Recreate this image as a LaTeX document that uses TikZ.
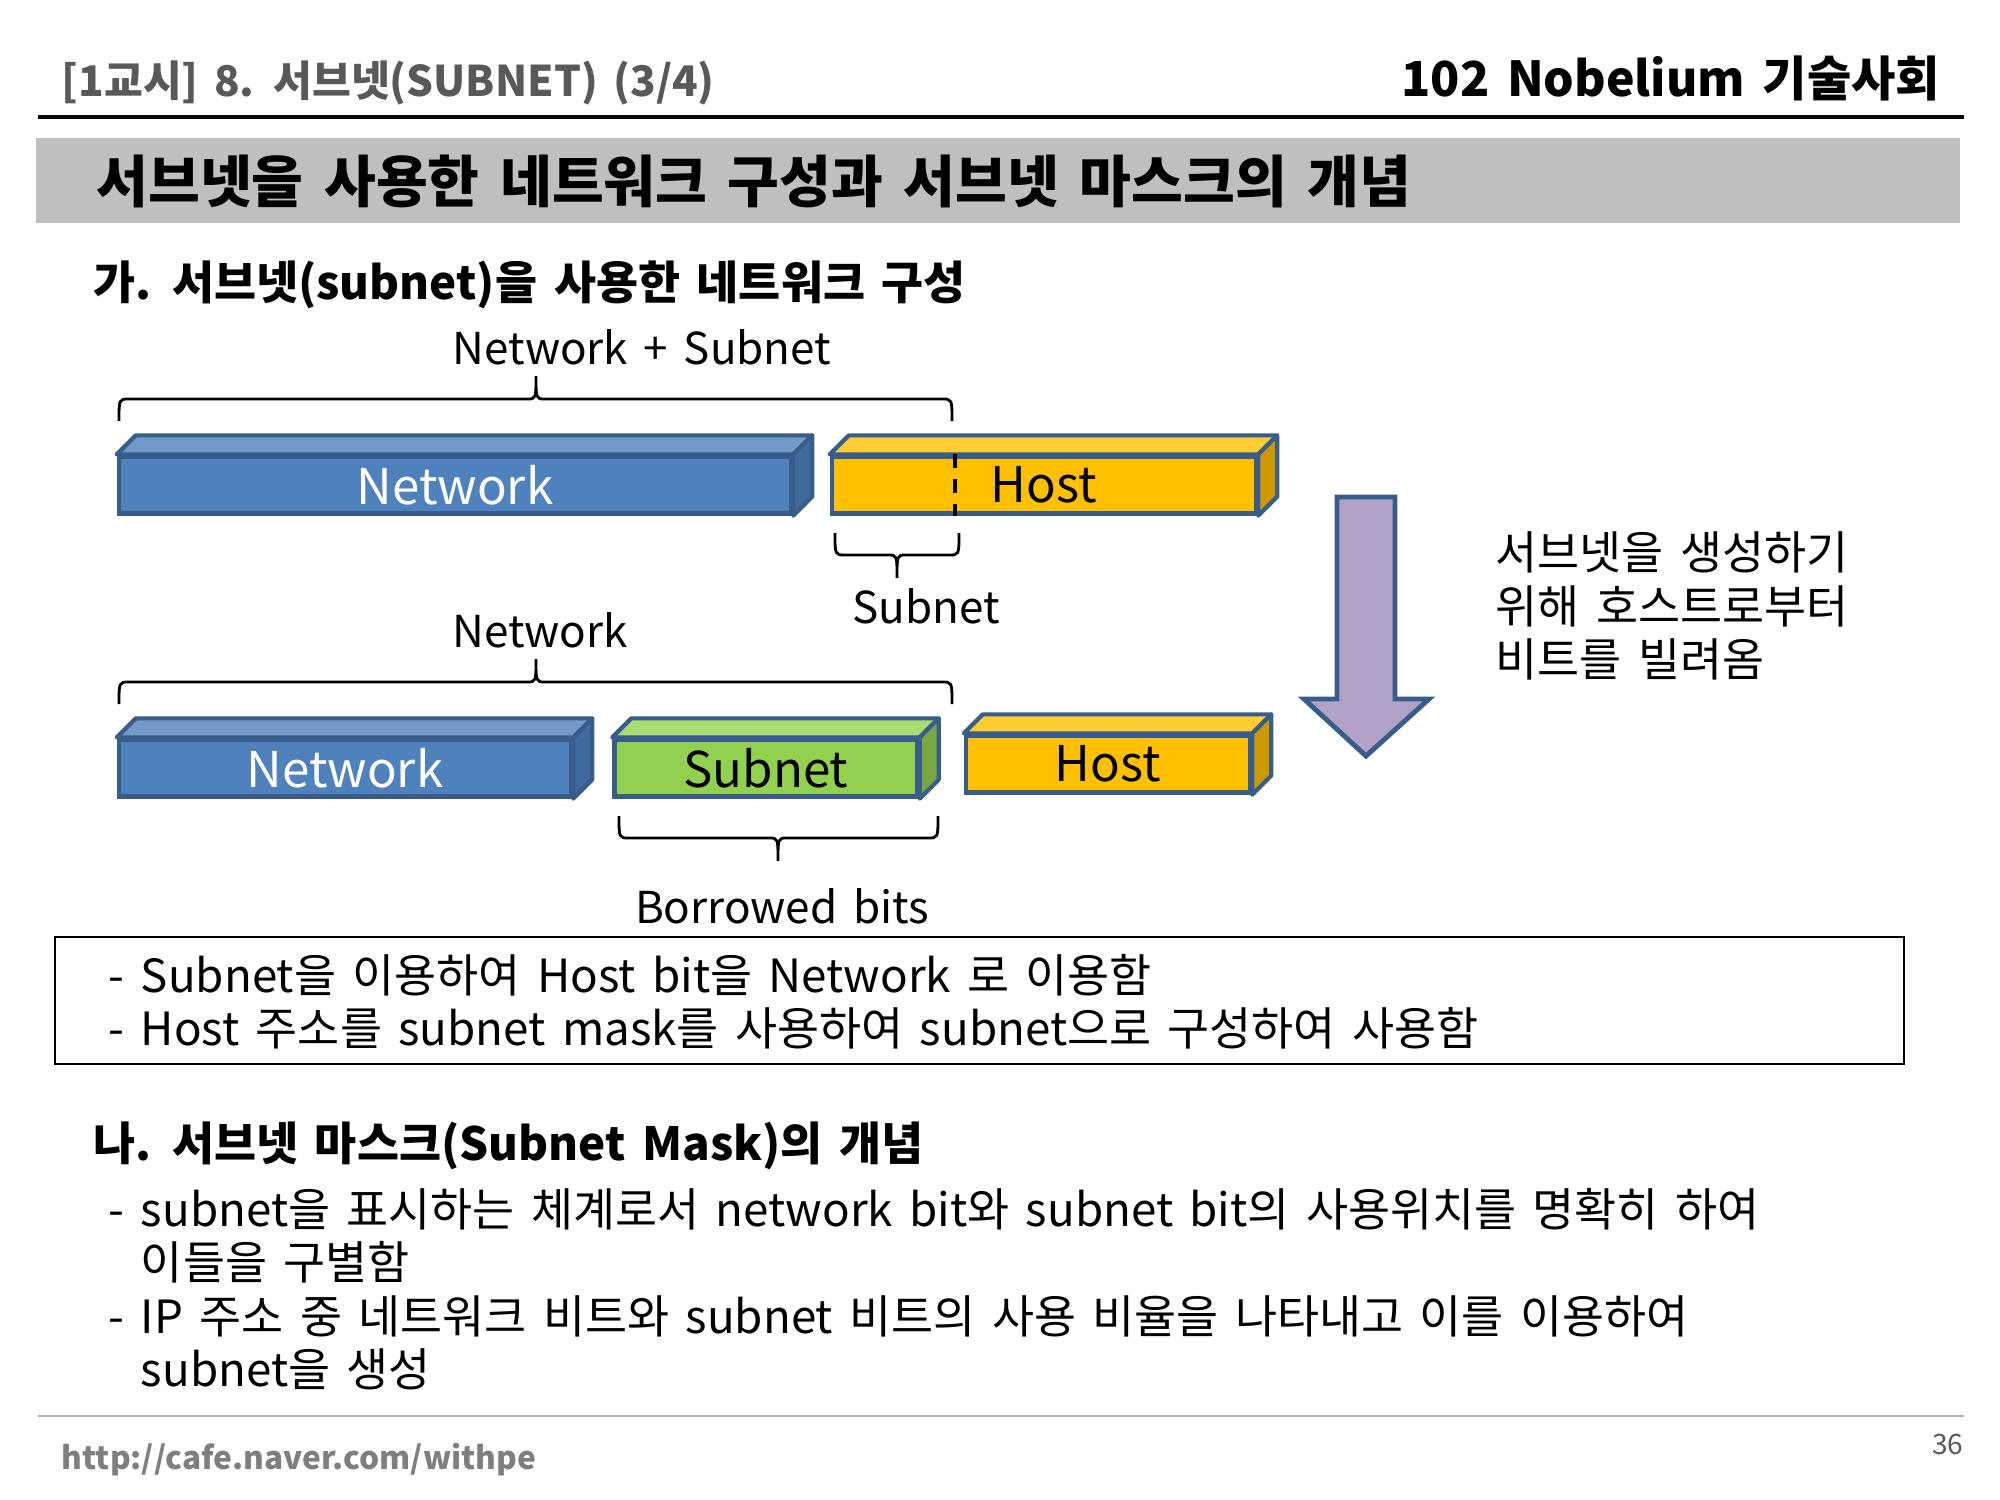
\documentclass[tikz,border=0pt]{standalone}
\usepackage{fontspec}
\setmainfont[WordSpace=1.6]{Noto Sans CJK KR}
\usepackage{xcolor}
\usepackage{tikz}

\definecolor{netblue}{HTML}{4F81BD}
\definecolor{nettop}{HTML}{7399C9}
\definecolor{netside}{HTML}{3E6A9E}
\definecolor{hostyel}{HTML}{FFC000}
\definecolor{hosttop}{HTML}{FFCD33}
\definecolor{hostside}{HTML}{CC9A00}
\definecolor{subgreen}{HTML}{92D050}
\definecolor{subtop}{HTML}{A9DA74}
\definecolor{subside}{HTML}{76A840}
\definecolor{edgeblue}{HTML}{385D8A}
\definecolor{arrowlav}{HTML}{B3A2C7}
\definecolor{bandgray}{HTML}{BFBFBF}
\definecolor{headgray}{HTML}{595959}
\definecolor{urlgray}{HTML}{7F7F7F}

% top and side faces of a 3D bar
\newcommand{\barfaces}[3]{%
  \draw[face, fill=#2] (#1.north west) -- ++(0.19cm,0.19cm) -- ([shift={(0.19cm,0.19cm)}]#1.north east) -- (#1.north east) -- cycle;
  \draw[face, fill=#3] (#1.north east) -- ++(0.19cm,0.19cm) -- ([shift={(0.19cm,0.19cm)}]#1.south east) -- (#1.south east) -- cycle;
}

% brace: left x, right x, tip x, end y, direction (1 = tip up, -1 = tip down)
\newcommand{\capbrace}[5]{%
  \pgfmathsetmacro{\yl}{#4-22*#5}
  \pgfmathsetmacro{\yt}{#4-45*#5}
  \draw[thick] (#1,#4) .. controls (#1,\yl) .. (#1+10,\yl) -- (#3-9,\yl)
    .. controls (#3,\yl) .. (#3,\yt) .. controls (#3,\yl) .. (#3+9,\yl)
    -- (#2-10,\yl) .. controls (#2,\yl) .. (#2,#4);
}

\begin{document}
\begin{tikzpicture}[
    x=0.01cm, y=-0.01cm,
    front/.style={rectangle, draw=edgeblue, line width=1.2pt, minimum height=0.57cm, inner sep=0pt, font=\fontsize{14}{16}\selectfont},
    face/.style={draw=edgeblue, line width=1.2pt, line join=round},
    txt/.style={anchor=west, inner sep=0pt, align=left, font=\fontsize{13}{15.2}\selectfont},
    lbl/.style={inner sep=0pt, font=\fontsize{12.5}{15}\selectfont}
]
\useasboundingbox (0,0) rectangle (2000,1500);

% Header
\node[anchor=west, inner sep=0pt, text=headgray, font=\fontsize{12}{14}\selectfont\bfseries] (hleft) at (61,83) {[1교시] 8. 서브넷(SUBNET) (3/4)};
\node[anchor=east, inner sep=0pt, font=\fontsize{13.7}{16}\selectfont\bfseries] (hright) at (1941,78) {102 Nobelium 기술사회};
\draw[line width=1.2pt] (38,117) -- (1964,117);

% Title band
\fill[bandgray] (36,138) rectangle (1960,223);
\node[anchor=west, inner sep=0pt, font=\fontsize{16}{18}\selectfont\bfseries] (title) at (96,181) {서브넷을 사용한 네트워크 구성과 서브넷 마스크의 개념};

% Part 1
\node[anchor=west, inner sep=0pt, font=\fontsize{13}{15}\selectfont\bfseries] (sec1) at (93,285) {가. 서브넷(subnet)을 사용한 네트워크 구성};

\node[lbl] (lnetsub) at (642,347) {Network + Subnet};
\capbrace{119}{952}{536}{421}{1}

\node[front, fill=netblue, text=white, minimum width=6.72cm] (net1) at (455,485) {Network};
\barfaces{net1}{nettop}{netside}
\node[front, fill=hostyel, minimum width=4.24cm] (host1) at (1044,485) {Host};
\barfaces{host1}{hosttop}{hostside}
\draw[line width=1.2pt, dash pattern=on 4pt off 3pt] ([xshift=1.25cm]host1.north west) -- ([xshift=1.25cm]host1.south west);

\capbrace{835}{959}{897}{533}{-1}
\node[lbl] (lsub) at (926,606) {Subnet};

\node[lbl] (lnet) at (540,630) {Network};
\capbrace{119}{952}{536}{704}{1}

\node[front, fill=netblue, text=white, minimum width=4.52cm] (net2) at (345,768) {Network};
\barfaces{net2}{nettop}{netside}
\node[front, fill=subgreen, minimum width=3.03cm] (sub2) at (766,768) {Subnet};
\barfaces{sub2}{subtop}{subside}
\node[front, fill=hostyel, minimum width=2.84cm] (host2) at (1108,764) {Host};
\barfaces{host2}{hosttop}{hostside}

\capbrace{619}{938}{778}{816}{-1}
\node[lbl] (lborrow) at (782,906) {Borrowed bits};

% Down arrow
\draw[draw=edgeblue, fill=arrowlav, line width=1.4pt, line join=miter]
  (1337,497) -- (1395,497) -- (1395,699) -- (1429,699) -- (1366,756) -- (1304,699) -- (1337,699) -- cycle;
\node[txt] (note) at (1495,606) {서브넷을 생성하기\\위해 호스트로부터\\비트를 빌려옴};

% Summary box
\draw[line width=0.7pt] (55,937) rectangle (1904,1064);
\node[txt] (sum) at (108,1002) {- Subnet을 이용하여 Host bit을 Network 로 이용함\\- Host 주소를 subnet mask를 사용하여 subnet으로 구성하여 사용함};

% Part 2
\node[anchor=west, inner sep=0pt, font=\fontsize{13}{15}\selectfont\bfseries] (sec2) at (93,1146) {나. 서브넷 마스크(Subnet Mask)의 개념};
\node[txt] (mask) at (108,1289) {- subnet을 표시하는 체계로서 network bit와 subnet bit의 사용위치를 명확히 하여\\\phantom{- }이들을 구별함\\- IP 주소 중 네트워크 비트와 subnet 비트의 사용 비율을 나타내고 이를 이용하여\\\phantom{- }subnet을 생성};

% Footer
\draw[line width=0.6pt, black!30] (38,1416) -- (1964,1416);
\node[anchor=west, inner sep=0pt, text=urlgray, font=\fontsize{9}{11}\selectfont\bfseries] (url) at (61,1460) {http://cafe.naver.com/withpe};
\node[anchor=east, inner sep=0pt, text=headgray, font=\fontsize{8}{10}\selectfont] (page) at (1964,1444) {36};

\end{tikzpicture}
\end{document}
